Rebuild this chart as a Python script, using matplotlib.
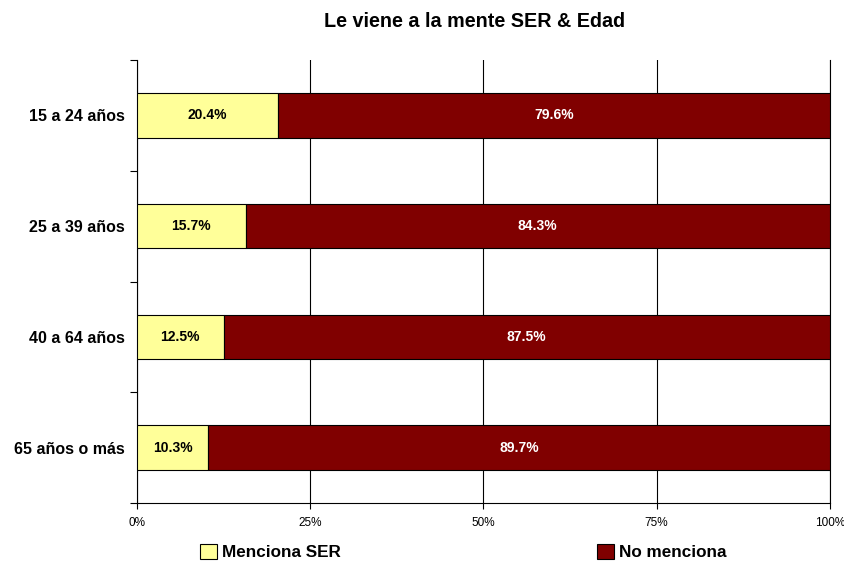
import matplotlib
matplotlib.use("Agg")
import matplotlib.pyplot as plt
from matplotlib.patches import Patch

plt.rcParams['font.family'] = ['Liberation Sans', 'DejaVu Sans']

categorias = ["15 a 24 años", "25 a 39 años", "40 a 64 años", "65 años o más"]
menciona = [20.4, 15.7, 12.5, 10.3]
no_menciona = [79.6, 84.3, 87.5, 89.7]
xticks = [0, 25, 50, 75, 100]
xlabels = ["0%", "25%", "50%", "75%", "100%"]

fig = plt.figure(figsize=(8.45, 5.65), dpi=100)
ax = fig.add_axes([0.162, 0.1097, 0.820, 0.7841])

pos = list(range(len(categorias)))
ax.barh(pos, menciona, height=0.4, color="#FFFF99", edgecolor="black", linewidth=0.8, zorder=3)
ax.barh(pos, no_menciona, left=menciona, height=0.4, color="#800000", edgecolor="black", linewidth=0.8, zorder=3)

for i in pos:
    ax.text(menciona[i] / 2, i, "{:.1f}%".format(menciona[i]), ha="center", va="center",
            fontsize=10, fontweight="bold", color="black", zorder=4)
    ax.text(menciona[i] + no_menciona[i] / 2, i, "{:.1f}%".format(no_menciona[i]), ha="center",
            va="center", fontsize=10, fontweight="bold", color="white", zorder=4)

ax.set_xlim(0, 100)
ax.set_ylim(3.5, -0.5)
ax.set_xticks(xticks)
ax.set_xticklabels(xlabels, fontsize=8.5)
ax.xaxis.grid(True, color="black", linewidth=0.8, zorder=0)

ax.set_yticks([-0.5, 0.5, 1.5, 2.5, 3.5])
ax.set_yticklabels([])
ax.set_yticks(pos, minor=True)
ax.set_yticklabels(categorias, minor=True, fontsize=11.5, fontweight="bold")
ax.tick_params(axis="y", which="minor", length=0, pad=9)
ax.tick_params(axis="y", which="major", length=5, width=0.8)
ax.tick_params(axis="x", length=4, width=0.8, pad=6)

ax.spines["top"].set_visible(False)
ax.spines["right"].set_linewidth(0.8)
ax.spines["left"].set_linewidth(0.8)
ax.spines["bottom"].set_linewidth(0.8)

fig.text(0.562, 0.962, "Le viene a la mente SER & Edad", ha="center", va="center",
         fontsize=14.2, fontweight="bold")

h1 = Patch(facecolor="#FFFF99", edgecolor="black", linewidth=0.8)
h2 = Patch(facecolor="#800000", edgecolor="black", linewidth=0.8)
leg_props = dict(loc="center left", frameon=False, handlelength=1.0, handleheight=1.0,
                 handletextpad=0.3, borderpad=0, borderaxespad=0,
                 prop={"size": 12.3, "weight": "bold"})
fig.legend([h1], ["Menciona SER"], bbox_to_anchor=(200 / 845, 0.023), **leg_props)
fig.legend([h2], ["No menciona"], bbox_to_anchor=(597 / 845, 0.023), **leg_props)

fig.savefig("out.png", dpi=100)
